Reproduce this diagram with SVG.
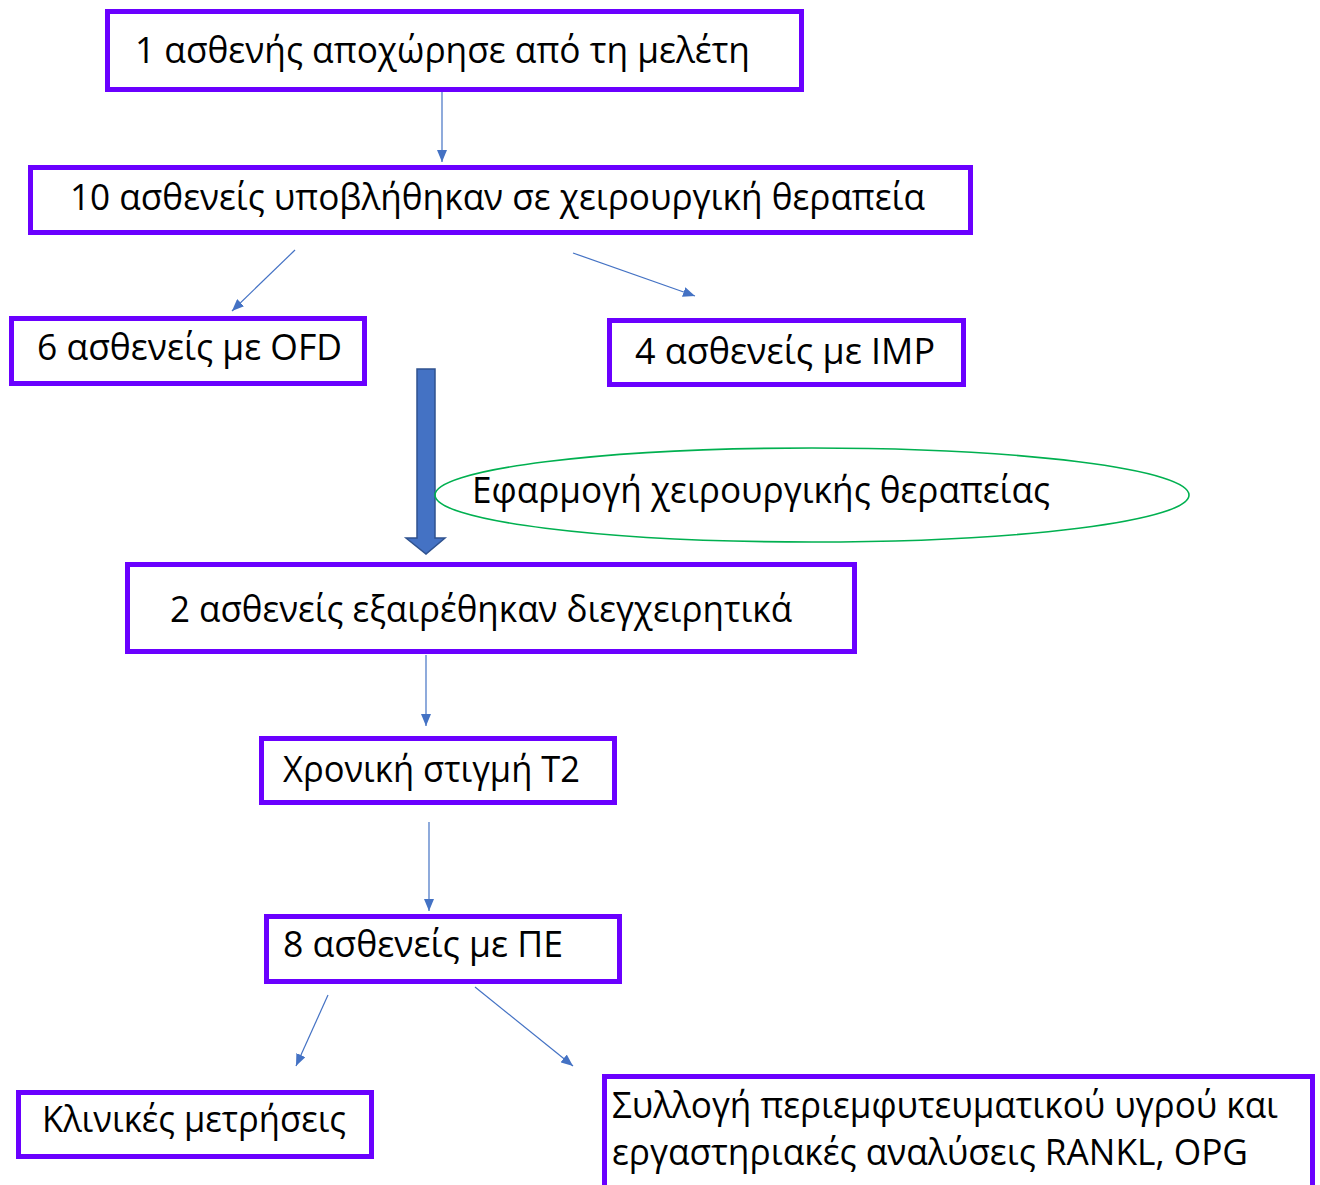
<svg xmlns="http://www.w3.org/2000/svg" width="1320" height="1185" viewBox="0 0 1320 1185">
<style>
.box{fill:#fff;stroke:#6a00ff;stroke-width:5}
.t{font-family:"Open Sans","Noto Sans","DejaVu Sans",sans-serif;font-size:36px;fill:#000}
.c{stroke:#4472c4;stroke-width:1.2;fill:none;marker-end:url(#ah)}
</style>
<defs>
<marker id="ah" markerWidth="12" markerHeight="10" refX="12" refY="5" orient="auto" markerUnits="userSpaceOnUse">
<path d="M0,0 L12,5 L0,10 Z" fill="#4472c4"/>
</marker>
</defs>
<rect width="1320" height="1185" fill="#fff"/>
<g id="connectors">
<line class="c" x1="442" y1="90" x2="442" y2="162"/>
<line class="c" x1="295" y1="250" x2="232" y2="311"/>
<line class="c" x1="573" y1="253" x2="695" y2="296"/>
<line class="c" x1="426" y1="655" x2="426" y2="726"/>
<line class="c" x1="429" y1="822" x2="429" y2="911"/>
<line class="c" x1="328" y1="995" x2="296" y2="1066"/>
<line class="c" x1="475" y1="987" x2="573" y2="1066"/>
<path id="bigarrow" d="M417,369 H435 V538 H445 L426,554 L406,538 H417 Z" fill="#4472c4" stroke="#2f528f" stroke-width="1.5"/>
</g>
<g id="n1"><rect class="box" x="107.5" y="11.5" width="694" height="78"/><text class="t" x="135" y="63" textLength="615" lengthAdjust="spacingAndGlyphs">1 ασθενής αποχώρησε από τη μελέτη</text></g>
<g id="n2"><rect class="box" x="30.5" y="167.5" width="940" height="65"/><text class="t" x="70" y="210" textLength="855" lengthAdjust="spacingAndGlyphs">10 ασθενείς υποβλήθηκαν σε χειρουργική θεραπεία</text></g>
<g id="n3"><rect class="box" x="11.5" y="318.5" width="353" height="65"/><text class="t" x="37" y="360" textLength="305" lengthAdjust="spacingAndGlyphs">6 ασθενείς με OFD</text></g>
<g id="n4"><rect class="box" x="609.5" y="320.5" width="354" height="64"/><text class="t" x="635" y="364" textLength="300" lengthAdjust="spacingAndGlyphs">4 ασθενείς με IMP</text></g>
<g id="n5"><ellipse cx="812" cy="495" rx="377" ry="47" fill="none" stroke="#00b050" stroke-width="1.6"/><text class="t" x="472" y="503" textLength="578" lengthAdjust="spacingAndGlyphs">Εφαρμογή χειρουργικής θεραπείας</text></g>
<g id="n6"><rect class="box" x="127.5" y="564.5" width="727" height="87"/><text class="t" x="170" y="622" textLength="622" lengthAdjust="spacingAndGlyphs">2 ασθενείς εξαιρέθηκαν διεγχειρητικά</text></g>
<g id="n7"><rect class="box" x="261.5" y="738.5" width="353" height="64"/><text class="t" x="283" y="782" textLength="297" lengthAdjust="spacingAndGlyphs">Χρονική στιγμή T2</text></g>
<g id="n8"><rect class="box" x="266.5" y="916.5" width="353" height="65"/><text class="t" x="283" y="957" textLength="280" lengthAdjust="spacingAndGlyphs">8 ασθενείς με ΠΕ</text></g>
<g id="n9"><rect class="box" x="18.5" y="1092.5" width="353" height="64"/><text class="t" x="42" y="1132" textLength="304" lengthAdjust="spacingAndGlyphs">Κλινικές μετρήσεις</text></g>
<g id="n10"><rect class="box" x="604.5" y="1076.5" width="708" height="120"/><text class="t" x="612" y="1118" textLength="666" lengthAdjust="spacingAndGlyphs">Συλλογή περιεμφυτευματικού υγρού και</text><text class="t" x="612" y="1165" textLength="636" lengthAdjust="spacingAndGlyphs">εργαστηριακές αναλύσεις RANKL, OPG</text></g>
</svg>
